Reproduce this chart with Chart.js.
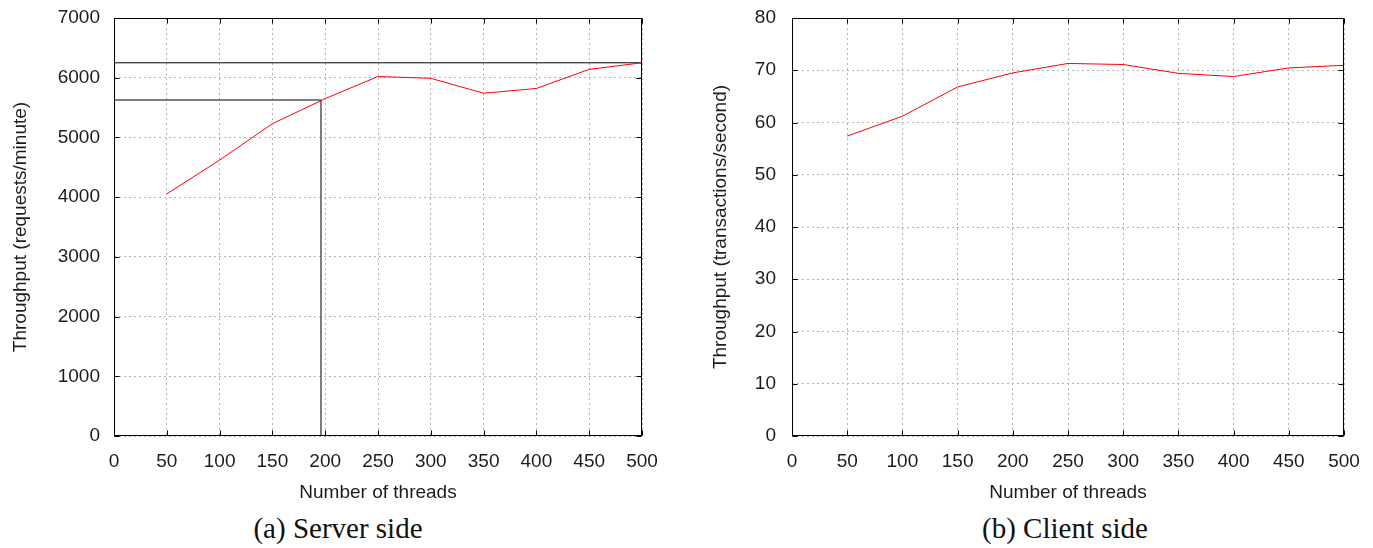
<!DOCTYPE html>
<html>
<head>
<meta charset="utf-8">
<script src="https://cdn.jsdelivr.net/npm/chart.js@4.4.1/dist/chart.umd.min.js"></script>
<style>
  html, body { margin: 0; padding: 0; background: #fff; }
  body { width: 1373px; height: 548px; position: relative; overflow: hidden; }
  .panel { position: absolute; top: 0; height: 510px; }
  #panel-server { left: 0; width: 690px; }
  #panel-client { left: 690px; width: 683px; }
  .caption {
    position: absolute; top: 512px; width: 400px; text-align: center;
    font-family: "Liberation Serif", "DejaVu Serif", serif; font-size: 29px; color: #111;
  }
  #cap-server { left: 138px; }
  #cap-client { left: 865px; }
</style>
</head>
<body>
<div class="panel" id="panel-server"><canvas id="chart-server"></canvas></div>
<div class="panel" id="panel-client"><canvas id="chart-client"></canvas></div>
<div class="caption" id="cap-server">(a) Server side</div>
<div class="caption" id="cap-client">(b) Client side</div>
<script>
// Throughput vs. number of threads, server side (left) and client side (right).

const THREADS = [50, 100, 150, 200, 250, 300, 350, 400, 450, 500];
const SERVER_RPM = [4055, 4620, 5230, 5650, 6020, 5990, 5740, 5820, 6140, 6250];
const CLIENT_TPS = [57.4, 61.2, 66.8, 69.5, 71.3, 71.1, 69.4, 68.8, 70.45, 70.95];

// guide lines on the server panel: peak level, and the knee near 196 threads
const PEAK_X = [0, 500];
const PEAK_Y = [6250, 6250];
const KNEE_X = [0, 196, 196];
const KNEE_Y = [5625, 5625, 0];

const FONT = '"Liberation Sans", Arial, Helvetica, sans-serif';
const INK = "#1c1c1c";
const GRID = "#b4b4b4";

Chart.defaults.font.family = FONT;
Chart.defaults.color = INK;

const pts = (xs, ys) => xs.map((x, i) => ({ x, y: ys[i] }));

// gnuplot-style box round the plot area with short inward ticks on all four sides
const frame = {
  id: "frame",
  afterDatasetsDraw(chart) {
    const { ctx, chartArea: a, scales: { x, y } } = chart;
    const L = Math.round(a.left) + 0.5, R = Math.round(a.right) - 0.5;
    const T = Math.round(a.top) + 0.5, B = Math.round(a.bottom) - 0.5;
    ctx.save();
    ctx.strokeStyle = "#000";
    ctx.lineWidth = 1;
    ctx.beginPath();
    x.ticks.forEach((t, i) => {
      const px = Math.round(x.getPixelForTick(i)) + 0.5;
      ctx.moveTo(px, B); ctx.lineTo(px, B - 5);
      ctx.moveTo(px, T); ctx.lineTo(px, T + 5);
    });
    y.ticks.forEach((t, i) => {
      const py = Math.round(y.getPixelForTick(i)) + 0.5;
      ctx.moveTo(L, py); ctx.lineTo(L + 5, py);
      ctx.moveTo(R, py); ctx.lineTo(R - 5, py);
    });
    ctx.stroke();
    ctx.strokeRect(L, T, R - L, B - T);
    ctx.restore();
  },
};

function makeChart(id, opts) {
  return new Chart(document.getElementById(id), {
    type: "line",
    data: { datasets: opts.datasets },
    options: {
      responsive: true,
      maintainAspectRatio: false,
      animation: false,
      layout: { padding: { top: 18, right: opts.padRight, bottom: 0, left: 0 } },
      plugins: { legend: { display: false }, tooltip: { enabled: false } },
      elements: { point: { radius: 0 }, line: { tension: 0 } },
      scales: {
        x: {
          type: "linear", min: 0, max: 500,
          ticks: { stepSize: 50, autoSkip: false, maxRotation: 0, padding: 14, font: { size: 19 },
                   callback: v => String(v) },
          grid: { color: GRID, drawTicks: false },
          border: { display: false, dash: [2, 3] },
          title: { display: true, text: "Number of threads", font: { size: 19 }, padding: { top: 0, bottom: 6 } },
          afterFit(s) { s.height = 74; s.paddingLeft = 0; s.paddingRight = 0; },
        },
        y: {
          min: 0, max: opts.yMax,
          ticks: { stepSize: opts.yStep, padding: opts.tickPad, font: { size: 19 },
                   callback: v => String(v) },
          grid: { color: GRID, drawTicks: false },
          border: { display: false, dash: [2, 3] },
          title: { display: true, text: opts.yTitle, font: { size: 19 }, padding: { top: opts.titlePad, bottom: 0 } },
          afterFit(s) { s.width = opts.axisWidth; s.paddingTop = 0; s.paddingBottom = 0; },
        },
      },
    },
    plugins: [frame],
  });
}

makeChart("chart-server", {
  yMax: 7000, yStep: 1000, yTitle: "Throughput (requests/minute)",
  axisWidth: 114, padRight: 48, tickPad: 14, titlePad: 9,
  datasets: [
    { data: pts(THREADS, SERVER_RPM), borderColor: "#ff0000", borderWidth: 1 },
    { data: pts(PEAK_X, PEAK_Y), borderColor: "#000", borderWidth: 1 },
    { data: pts(KNEE_X, KNEE_Y), borderColor: "#555", borderWidth: 1.5 },
  ],
});

makeChart("chart-client", {
  yMax: 80, yStep: 10, yTitle: "Throughput (transactions/second)",
  axisWidth: 102, padRight: 29, tickPad: 16, titlePad: 19,
  datasets: [
    { data: pts(THREADS, CLIENT_TPS), borderColor: "#ff0000", borderWidth: 1 },
  ],
});
</script>
</body>
</html>
